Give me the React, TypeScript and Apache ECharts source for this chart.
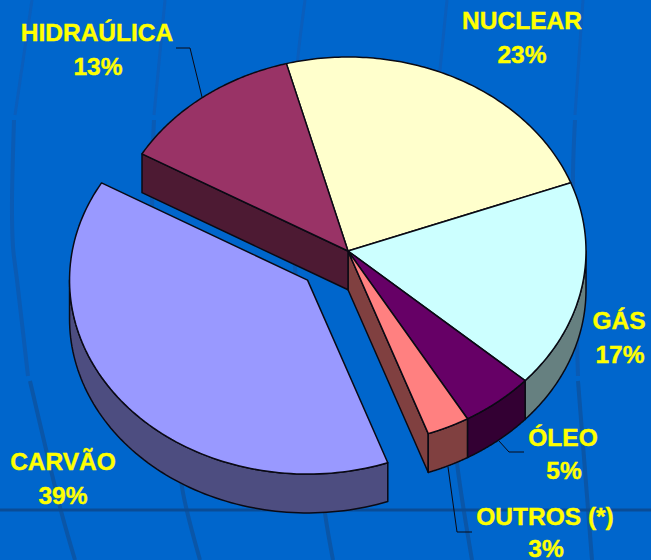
import React, { useEffect, useRef } from "react";
import * as echarts from "echarts";

const sliceNames = ["NUCLEAR", "GÁS", "ÓLEO", "OUTROS (*)", "CARVÃO", "HIDRAÚLICA"];
const sliceValues = [23.49, 17.4, 5, 2.9, 38.9, 12.51];
const percentLabels = ["23%", "17%", "5%", "3%", "39%", "13%"];
const explodedSlices = [false, false, false, false, true, false];
const topColors = ["#FFFFCC", "#CCFFFF", "#660066", "#FF8080", "#9999FF", "#993366"];
const sideColors = ["#808066", "#668080", "#330033", "#804040", "#4D4D80", "#4D1A33"];

const nameAnchors = [
  [522, 20],
  [619, 320],
  [563, 437],
  [545, 516],
  [63, 461],
  [97, 32],
];
const percentAnchors = [
  [522, 54],
  [620, 354],
  [564, 470],
  [546, 548],
  [63, 495],
  [98, 66],
];
const leaderLines = [
  [[176, 48], [190, 48], [202, 97]],
  [[499, 441], [509, 452], [524, 452]],
  [[448, 467], [457, 532], [472, 532]],
];
const backdropCurves = [
  [[[32, 0], [15, 115]], [[14, 120], [12, 200], [13, 247], [17, 280], [28, 376]], [[30, 381], [60, 507], [75, 560]]],
  [[[165, 0], [154, 115]], [[154, 120], [152, 200], [160, 300], [170, 376]], [[172, 381], [182, 487], [200, 560]]],
  [[[305, 0], [298, 57], [294, 115]], [[294, 120], [295, 267], [308, 376]], [[310, 381], [325, 513], [333, 560]]],
  [[[447, 0], [440, 70], [436, 115]], [[436, 120], [440, 260], [450, 376]], [[451, 381], [457, 463], [472, 560]]],
  [[[583, 0], [575, 115]], [[575, 120], [573, 180], [577, 343], [578, 376]], [[578, 381], [592, 560]]],
];
const backdropRule = [0, 510, 651, 510];

const PIE_LEFT = 110;
const PIE_TOP = 57;
const PIE_WIDTH = 476;
const PIE_HEIGHT = 388;
const START_ANGLE = -15;
const DEPTH = 0.2;
const EXPLODE_X = -0.17;
const EXPLODE_Y = -0.15;
const DEG = Math.PI / 180;

const total = sliceValues.reduce((a, b) => a + b, 0);
const angles: number[] = [START_ANGLE];
sliceValues.forEach((v, i) => angles.push(angles[i] + (v / total) * 360));

function renderSlice(params: any, api: any) {
  const i = params.dataIndex;
  const a0 = angles[i];
  const a1 = angles[i + 1];
  const ox = explodedSlices[i] ? EXPLODE_X : 0;
  const oy = explodedSlices[i] ? EXPLODE_Y : 0;
  const top = (deg: number) => api.coord([ox + Math.sin(deg * DEG), oy + Math.cos(deg * DEG)]);
  const low = (deg: number) => api.coord([ox + Math.sin(deg * DEG), oy - DEPTH + Math.cos(deg * DEG)]);
  const center = api.coord([ox, oy]);
  const centerLow = api.coord([ox, oy - DEPTH]);
  const side = sideColors[i];
  const stroke = { stroke: "#0a0a14", lineWidth: 1.5, lineJoin: "round" };
  const children: any[] = [];

  const n = sliceValues.length;
  const prevGap = explodedSlices[(i + n - 1) % n] !== explodedSlices[i];
  const nextGap = explodedSlices[(i + 1) % n] !== explodedSlices[i];
  const radial = (deg: number) => ({
    type: "polygon",
    shape: { points: [center, top(deg), low(deg), centerLow] },
    style: { fill: side, ...stroke },
  });
  if (prevGap && Math.cos((a0 - 90) * DEG) < 0) children.push(radial(a0));
  if (nextGap && Math.cos((a1 + 90) * DEG) < 0) children.push(radial(a1));

  const wallStart = Math.max(a0, 90);
  const wallEnd = Math.min(a1, 270);
  if (wallEnd > wallStart) {
    const upper: number[][] = [];
    const lower: number[][] = [];
    for (let k = 0; k <= 80; k++) {
      const d = wallStart + ((wallEnd - wallStart) * k) / 80;
      upper.push(top(d));
      lower.unshift(low(d));
    }
    children.push({
      type: "polygon",
      shape: { points: [...upper, ...lower] },
      style: { fill: side, ...stroke },
    });
  }

  const face: number[][] = [center];
  for (let k = 0; k <= 100; k++) face.push(top(a0 + ((a1 - a0) * k) / 100));
  children.push({
    type: "polygon",
    shape: { points: face },
    style: { fill: topColors[i], ...stroke },
  });
  return { type: "group", children };
}

export default function App() {
  const ref = useRef<HTMLDivElement>(null);
  useEffect(() => {
    document.body.style.margin = "0";
    const chart = echarts.init(ref.current!, undefined, { renderer: "svg" });
    const backdrop: any[] = [];
    backdropCurves.forEach((curve) =>
      curve.forEach((points, s) =>
        backdrop.push({
          type: "polyline",
          z: 0,
          shape: { points, smooth: 0.3 },
          style: { fill: "none", stroke: s === 0 ? "#0A5EBC" : s === 1 ? "#0A5BB4" : "#0A56A8", lineWidth: s === 0 ? 3 : 4 },
        })
      )
    );
    backdrop.push({
      type: "line",
      z: 0,
      shape: { x1: backdropRule[0], y1: backdropRule[1], x2: backdropRule[2], y2: backdropRule[3] },
      style: { stroke: "#0A4C96", lineWidth: 3 },
    });
    const leaders = leaderLines.map((points) => ({
      type: "polyline",
      z: 1,
      shape: { points },
      style: { fill: "none", stroke: "#0a0a14", lineWidth: 1 },
    }));
    const textStyle = {
      fill: "#FFFF00",
      stroke: "#FFFF00",
      lineWidth: 0.4,
      font: 'bold 24.5px "Liberation Sans", Arial, sans-serif',
      align: "center",
      verticalAlign: "middle",
    };
    const labels: any[] = [];
    sliceNames.forEach((name, i) => {
      labels.push({ type: "text", z: 10, x: nameAnchors[i][0], y: nameAnchors[i][1], style: { ...textStyle, text: name } });
      labels.push({ type: "text", z: 10, x: percentAnchors[i][0], y: percentAnchors[i][1], style: { ...textStyle, text: percentLabels[i] } });
    });
    chart.setOption({
      animation: false,
      backgroundColor: "#0066CC",
      grid: { left: PIE_LEFT, top: PIE_TOP, width: PIE_WIDTH, height: PIE_HEIGHT },
      xAxis: { type: "value", min: -1, max: 1, show: false },
      yAxis: { type: "value", min: -1, max: 1, show: false },
      graphic: { elements: [...backdrop, ...leaders, ...labels] },
      series: [
        {
          type: "custom",
          z: 5,
          clip: false,
          silent: true,
          renderItem: renderSlice,
          data: sliceValues.map((value, i) => ({ name: sliceNames[i], value: [0, 0, value] })),
        },
      ],
    });
    return () => chart.dispose();
  }, []);
  return <div ref={ref} style={{ position: "fixed", left: 0, top: 0, width: 651, height: 560 }} />;
}
